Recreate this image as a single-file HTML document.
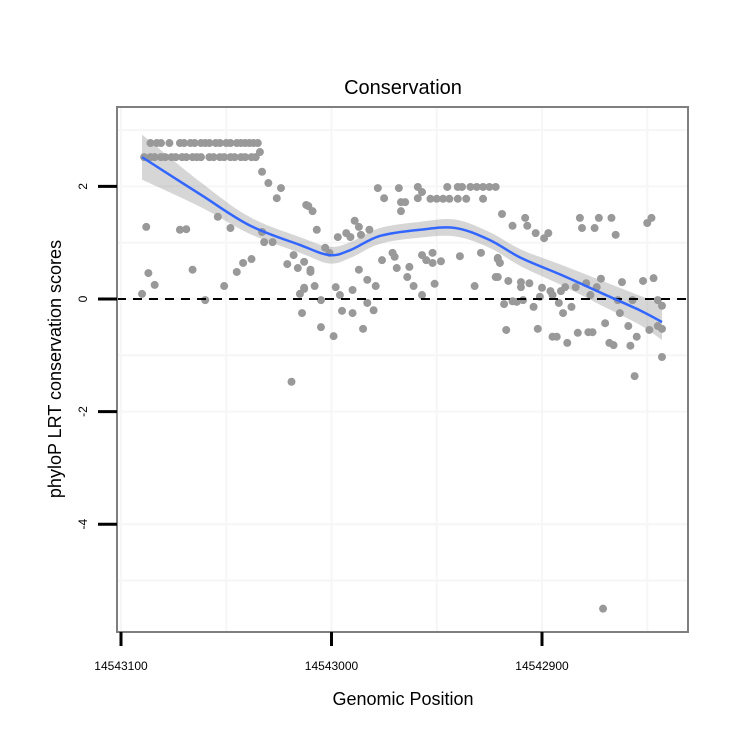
<!DOCTYPE html>
<html><head><meta charset="utf-8"><style>body{margin:0;background:#fff}svg{display:block;font-family:"Liberation Sans",sans-serif}</style></head>
<body>
<svg id="chart" width="750" height="750">
<rect x="0" y="0" width="750" height="750" fill="#fff"/>
<g id="grid"></g>
<g id="band"></g>
<g id="pts"></g>
<line x1="117" x2="688" y1="299" y2="299" stroke="#000" stroke-width="2" stroke-dasharray="9,7"/>
<g id="fit"></g>
<rect x="117" y="107" width="571" height="525" fill="none" stroke="#7f7f7f" stroke-width="2"/>
<g id="axes"></g>
<text x="403" y="94" font-size="20" text-anchor="middle">Conservation</text>
<text x="403" y="705" font-size="18" text-anchor="middle">Genomic Position</text>
<text x="0" y="0" font-size="18" text-anchor="middle" transform="translate(61,369) rotate(-90)">phyloP LRT conservation scores</text>
</svg>
<script>
const positions=[14543086,14543081,14543077,14543067,14543062,14543058,14543053,14543048,14543041,14543037,
14543089,14543084,14543079,14543074,14543062,14543058,14543051,14543046,14543041,14543036,14543034,
14543033,14543030,14543024,14543026,14543088,14543072,14543069,14543054,14543048,14543033,14543032,14543028,
14543011,14543009,14543087,14543084,14543090,14543066,14543060,14543051,14543045,14543042,14543038,
14543021,14543018,14543016,14543013,14543010,14543015,14543013,14543008,14543014,14543019,
14542978,14542968,14542959,14542957,14542945,14542940,14542938,14542934,14542931,14542928,14542925,14542922,
14542975,14542967,14542965,14542959,14542953,14542950,14542947,14542944,14542940,14542936,14542928,14542967,
14543012,14543007,14542997,14542993,14542991,14542989,14542987,14542986,14542982,14543003,14543001,
14543010,14542987,14542983,14542979,14542976,14542971,14542970,14542969,14542963,14542964,14542961,
14542957,14542955,14542952,14542952,14542948,14542951,14542957,14542939,14542929,14542932,14542921,14542921,
14543013,14542998,14542996,14542990,14543005,14542995,14542990,14542983,14542980,14543005,14542999,14542985,
14542919,14542914,14542908,14542907,14542903,14542899,14542897,14542882,14542881,14542873,14542875,14542867,14542865,14542850,14542848,
14542921,14542920,14542922,14542916,14542910,14542910,14542906,14542900,14542896,14542891,14542889,14542884,14542879,14542874,14542872,14542862,14542852,14542847,
14542918,14542914,14542912,14542909,14542901,14542895,14542904,14542892,14542886,14542890,14542877,14542864,14542857,14542845,14542843,
14542863,14542917,14542902,14542895,14542893,14542888,14542883,14542878,14542876,14542870,14542859,14542855,14542868,14542866,14542858,14542849,14542845,14542843,
14542843,14542856,14542871,
14543083,14543072,14543070,14543065,14543060,14543055,14543050,14543045,14543043,14543039,14543035,
14543086,14543081,14543076,14543071,14543069,14543066,14543064,14543056,14543053,14543048,14543043,14543038];
const scores=[2.77,2.77,2.77,2.77,2.77,2.77,2.77,2.77,2.77,2.77,
2.52,2.52,2.52,2.52,2.52,2.52,2.52,2.52,2.52,2.52,2.61,
2.26,2.06,1.97,1.79,1.28,1.23,1.24,1.46,1.26,1.19,1.01,1.01,
1.65,1.56,0.46,0.25,0.09,0.52,-0.02,0.23,0.48,0.64,0.71,
0.62,0.78,0.55,0.66,0.48,0.09,0.18,0.23,-0.25,-1.47,
1.97,1.97,1.99,1.9,1.99,1.99,1.99,1.99,1.99,1.99,1.99,1.99,
1.79,1.72,1.72,1.79,1.78,1.78,1.78,1.78,1.78,1.78,1.78,1.56,
1.67,1.23,1.1,1.17,1.1,1.39,1.28,1.14,1.23,0.91,0.82,
0.52,0.52,0.34,0.23,0.69,0.82,0.75,0.55,0.57,0.39,0.23,
0.78,0.69,0.64,0.82,0.67,0.27,0.07,0.76,0.82,0.23,0.71,0.39,
0.2,0.21,0.07,0.16,-0.02,-0.21,-0.25,-0.07,-0.2,-0.5,-0.66,-0.53,
1.51,1.3,1.44,1.3,1.17,1.08,1.17,1.44,1.26,1.44,1.26,1.44,1.14,1.35,1.44,
0.73,0.64,0.39,0.32,0.3,0.21,0.28,0.2,0.14,0.14,0.21,0.21,0.28,0.21,0.36,0.3,0.32,0.37,
-0.09,-0.04,-0.05,-0.02,0.04,0.07,-0.14,-0.07,-0.14,-0.25,0.07,-0.02,-0.02,-0.02,-0.12,
-0.25,-0.55,-0.53,-0.67,-0.67,-0.78,-0.6,-0.59,-0.59,-0.43,-0.48,-0.67,-0.78,-0.82,-0.83,-0.55,-0.48,-0.53,
-1.03,-1.37,-5.5,
2.77,2.77,2.77,2.77,2.77,2.77,2.77,2.77,2.77,2.77,2.77,
2.52,2.52,2.52,2.52,2.52,2.52,2.52,2.52,2.52,2.52,2.52,2.52];
const fitPositions=[14543090,14543062,14543039,14543015,14543001,14542991,14542977,14542958,14542941,14542925,14542910,14542891,14542872,14542853,14542843];
const fitValues=[2.52,1.85,1.31,0.96,0.78,0.87,1.12,1.23,1.26,1.05,0.73,0.43,0.11,-0.21,-0.41];
const fitSE=[0.4,0.22,0.15,0.14,0.15,0.14,0.14,0.14,0.15,0.14,0.15,0.18,0.22,0.26,0.32];
const xTicks=[14543100,14543000,14542900];
const yTicks=[2,0,-2,-4];
const xGridMinor=[14543050,14542950,14542850];
const yGridMinor=[3,1,-1,-5];

const NS='http://www.w3.org/2000/svg';
const X=p=>121+(14543100-p)*2.105;
const Y=s=>299-s*56.3;
function mk(tag,attrs,parent){const e=document.createElementNS(NS,tag);for(const k in attrs)e.setAttribute(k,attrs[k]);parent.appendChild(e);return e;}
function smooth(pts){let d='M'+pts[0][0]+','+pts[0][1];for(let i=0;i<pts.length-1;i++){const p0=pts[i-1]||pts[i],p1=pts[i],p2=pts[i+1],p3=pts[i+2]||p2;
d+=' C'+(p1[0]+(p2[0]-p0[0])/6)+','+(p1[1]+(p2[1]-p0[1])/6)+' '+(p2[0]-(p3[0]-p1[0])/6)+','+(p2[1]-(p3[1]-p1[1])/6)+' '+p2[0]+','+p2[1];}return d;}
const grid=document.getElementById('grid');
xTicks.concat(xGridMinor).forEach(p=>{const l=mk('line',{x1:X(p),x2:X(p),y1:108,y2:631,stroke:'#f6f6f6','stroke-width':2},grid);

});
yTicks.concat(yGridMinor).forEach(s=>{const l=mk('line',{x1:118,x2:687,y1:Y(s),y2:Y(s),stroke:'#f6f6f6','stroke-width':2},grid);

});
const pts=document.getElementById('pts');
positions.forEach((p,i)=>{const c=mk('circle',{cx:X(p),cy:Y(scores[i]),r:4,fill:'#999'},pts);

});
const upP=fitPositions.map((p,i)=>[X(p),Y(fitValues[i]+fitSE[i])]);
const dnP=fitPositions.map((p,i)=>[X(p),Y(fitValues[i]-fitSE[i])]).reverse();
const band=mk('path',{d:smooth(upP)+' L'+smooth(dnP).slice(1)+' Z',fill:'#999','fill-opacity':0.4},document.getElementById('band'));


const fl=mk('path',{d:smooth(fitPositions.map((p,i)=>[X(p),Y(fitValues[i])])),fill:'none',stroke:'#3366ff','stroke-width':2.5},document.getElementById('fit'));


const axes=document.getElementById('axes');
xTicks.forEach(p=>{const t=mk('line',{x1:X(p),x2:X(p),y1:632,y2:646,stroke:'#000','stroke-width':3},axes);


const lb=mk('text',{x:X(p),y:670,'font-size':12,'text-anchor':'middle'},axes);lb.textContent=p;

});
yTicks.forEach(s=>{const t=mk('line',{x1:98,x2:117,y1:Y(s),y2:Y(s),stroke:'#000','stroke-width':3},axes);


const lb=mk('text',{x:0,y:0,'font-size':12,'text-anchor':'middle',transform:`translate(87,${Y(s)}) rotate(-90)`},axes);lb.textContent=s;

});
</script>
</body></html>
